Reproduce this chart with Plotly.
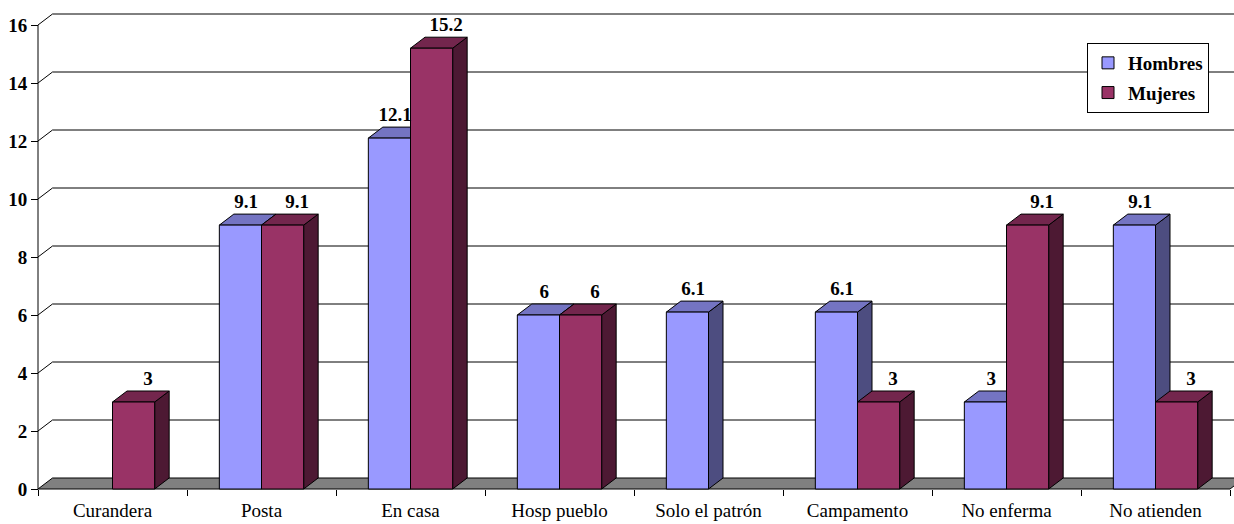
import plotly.graph_objects as go

# ---------------- data ----------------
categories = ["Curandera", "Posta", "En casa", "Hosp pueblo", "Solo el patrón",
              "Campamento", "No enferma", "No atienden"]
hombres = [None, 9.1, 12.1, 6, 6.1, 6.1, 3, 9.1]
mujeres = [3, 9.1, 15.2, 6, None, 3, 9.1, 3]
y_ticks = [0, 2, 4, 6, 8, 10, 12, 14, 16]
series_names = ["Hombres", "Mujeres"]

# ---------------- style / geometry ----------------
W, H = 1234, 524
ML, MR, MT, MB = 30, 0, 5, 32          # margins (px)
PX_X = 149.0                           # px per category
PX_Y = 29.0                            # px per y unit
AXIS_LEFT_PX = 38                      # where category -0.5 sits
plot_w = W - ML - MR
plot_h = H - MT - MB
x0 = -0.5 - (AXIS_LEFT_PX - ML) / PX_X
x1 = x0 + plot_w / PX_X
y_bottom_pad = 3 / PX_Y
y0 = -y_bottom_pad
y1 = y0 + plot_h / PX_Y

BAR_W = 0.283
DX = 14.5 / PX_X
DY = 11 / PX_Y
LABEL_SHIFT = {"Hombres": 0.4, "Mujeres": 1.0}   # fraction of DX

colors = {
    "Hombres": {"front": "#9999FF", "top": "#7474C2", "side": "#4D4D80"},
    "Mujeres": {"front": "#993366", "top": "#73264D", "side": "#4D1933"},
}
FONT = "Times New Roman, Liberation Serif, DejaVu Serif, serif"

fig = go.Figure()

# back-wall gridlines (with left side-wall diagonal)
gx, gy = [], []
for v in y_ticks[1:]:
    gx += [-0.5, -0.5 + DX, x1 + 1, None]
    gy += [v, v + DY, v + DY, None]
fig.add_trace(go.Scatter(x=gx, y=gy, mode="lines", line=dict(color="#000000", width=1),
                         hoverinfo="skip", showlegend=False))

# floor
n = len(categories)
fig.add_trace(go.Scatter(
    x=[-0.5, n - 0.5, n - 0.5 + DX, -0.5 + DX, -0.5],
    y=[0, 0, DY, DY, 0],
    mode="lines", fill="toself", fillcolor="#808080",
    line=dict(color="#000000", width=1), hoverinfo="skip", showlegend=False))

# y-axis line (front-left edge)
fig.add_trace(go.Scatter(x=[-0.5, -0.5], y=[0, y_ticks[-1]], mode="lines",
                         line=dict(color="#000000", width=1), hoverinfo="skip",
                         showlegend=False))


def faces(values, offset):
    fx, fy, tx, ty, sx, sy = [], [], [], [], [], []
    for i, v in enumerate(values):
        if v is None:
            continue
        xl = i + offset
        xr = xl + BAR_W
        fx += [xl, xr, xr, xl, xl, None]
        fy += [0, 0, v, v, 0, None]
        tx += [xl, xr, xr + DX, xl + DX, xl, None]
        ty += [v, v, v + DY, v + DY, v, None]
        sx += [xr, xr + DX, xr + DX, xr, xr, None]
        sy += [0, DY, v + DY, v, 0, None]
    return (fx, fy), (tx, ty), (sx, sy)


label_x, label_y, label_t = [], [], []
for name, vals, off in [("Hombres", hombres, -BAR_W), ("Mujeres", mujeres, 0.0)]:
    (fx, fy), (tx, ty), (sx, sy) = faces(vals, off)
    c = colors[name]
    for xs, ys, col in [(sx, sy, c["side"]), (tx, ty, c["top"]), (fx, fy, c["front"])]:
        fig.add_trace(go.Scatter(x=xs, y=ys, mode="lines", fill="toself", fillcolor=col,
                                 line=dict(color="#000000", width=1), hoverinfo="skip",
                                 showlegend=False))
    for i, v in enumerate(vals):
        if v is None:
            continue
        label_x.append(i + off + BAR_W / 2 + DX * LABEL_SHIFT[name])
        label_y.append(v + DY + 0.05)
        label_t.append(f"{v:g}")

fig.add_trace(go.Scatter(x=label_x, y=label_y, text=label_t, mode="text",
                         textposition="top center", cliponaxis=False,
                         textfont=dict(family=FONT, size=19, color="#000000", weight="bold"),
                         hoverinfo="skip", showlegend=False))

# legend entries
for name in series_names:
    fig.add_trace(go.Bar(x=[None], y=[None], name=name, legendgroup=name,
                         marker=dict(color=colors[name]["front"],
                                     line=dict(color="#000000", width=1))))

fig.update_layout(
    template="none",
    width=W, height=H,
    margin=dict(l=ML, r=MR, t=MT, b=MB, autoexpand=False),
    paper_bgcolor="#FFFFFF", plot_bgcolor="#FFFFFF",
    font=dict(family=FONT, size=19, color="#000000"),
    showlegend=True,
    legend=dict(x=(1087 - ML) / plot_w, xanchor="left",
                y=(H - MB - 43) / plot_h, yanchor="top",
                bgcolor="#FFFFFF", bordercolor="#000000", borderwidth=1,
                font=dict(family=FONT, size=19, color="#000000", weight="bold"),
                traceorder="grouped", tracegroupgap=2, itemwidth=30),
    xaxis=dict(range=[x0, x1], anchor="free", automargin=False,
               position=y_bottom_pad * PX_Y / plot_h,
               showgrid=False, zeroline=False, showline=False,
               tickmode="array", tickvals=list(range(n)), ticktext=categories,
               ticks="", ticklabelstandoff=8,
               tickfont=dict(family=FONT, size=19, color="#000000"),
               minor=dict(tickmode="array", tickvals=[i - 0.5 for i in range(n + 1)],
                          ticks="outside", ticklen=6, tickcolor="#000000", tickwidth=1,
                          showgrid=False)),
    yaxis=dict(range=[y0, y1], anchor="free", automargin=False,
               position=(AXIS_LEFT_PX - ML) / plot_w,
               showgrid=False, zeroline=False, showline=False,
               tickmode="array", tickvals=y_ticks,
               ticks="outside", ticklen=7, tickcolor="#000000", tickwidth=1,
               tickfont=dict(family=FONT, size=19, color="#000000", weight="bold")),
)

fig.write_html("out.html", config={"displayModeBar": False},
               post_script="document.body.style.margin='0px';"
                           "document.body.style.overflow='hidden';")
